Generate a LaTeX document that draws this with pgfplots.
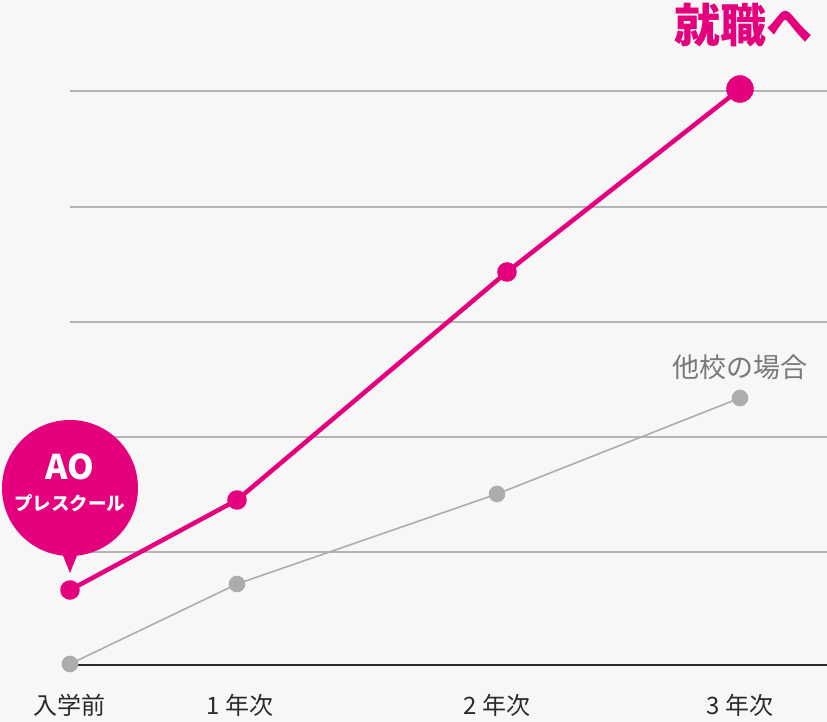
\documentclass[border=0pt]{standalone}
\usepackage{pgfplots}
\pgfplotsset{compat=1.18}
\usepackage{fontspec}
\setmainfont{Noto Sans CJK JP}
\definecolor{pk}{HTML}{E5007E}
\definecolor{bg}{HTML}{F7F7F7}
\definecolor{gl}{HTML}{B4B4B4}
\definecolor{gm}{HTML}{ADADAD}
\definecolor{tx}{HTML}{2A2A2A}
\begin{document}
\begin{tikzpicture}
\fill[bg] (-70pt,-57pt) rectangle (757pt,665pt);
\begin{axis}[
  at={(0pt,0pt)}, anchor=south west,
  scale only axis, width=757pt, height=574pt,
  xmin=0, xmax=757, ymin=0, ymax=574,
  clip=false,
  axis line style={draw=none},
  tick style={draw=none},
  ytick={113,228,343,458,574}, yticklabels={},
  ymajorgrids, grid style={gl, line width=1.4pt},
  extra y ticks={0}, extra y tick labels={},
  extra y tick style={grid style={tx, line width=2pt}},
  xtick={0,170,427,670},
  xticklabels={入学前,1 年次,2 年次,3 年次},
  xticklabel style={font=\fontsize{24}{24}\selectfont, text=tx, anchor=center, yshift=-40pt},
]
\addplot[gm, line width=1.6pt, mark=*, mark size=7.5pt, mark options={fill=gm, draw=none}]
  coordinates {(0,1) (167,81) (427,171) (670,267)};
\addplot[pk, line width=4.5pt, mark=*, mark size=7.5pt, mark options={fill=pk, draw=none}]
  coordinates {(0,75) (167,165) (437,393) (670,576)};
\addplot[only marks, pk, mark=*, mark size=13.5pt, mark options={fill=pk, draw=none}]
  coordinates {(670,576)};
% bubble
\fill[pk] (axis cs:0,177) circle (68pt);
\fill[pk] (axis cs:-8,112) -- (axis cs:8,112) -- (axis cs:0,92) -- cycle;
\node[text=white, font=\bfseries\fontsize{34}{34}\selectfont] at (axis cs:0,198) {AO};
\node[text=white, font=\bfseries\fontsize{18.5}{18.5}\selectfont] at (axis cs:0,162) {プレスクール};
\node[text=pk, font=\bfseries\fontsize{46}{46}\selectfont] at (axis cs:673,640) {就職へ};
\node[text=gray!95!black, font=\fontsize{27}{27}\selectfont] at (axis cs:670,298) {他校の場合};
\end{axis}
\pgfresetboundingbox
\useasboundingbox (-70pt,-57pt) rectangle (757pt,665pt);
\end{tikzpicture}
\end{document}
